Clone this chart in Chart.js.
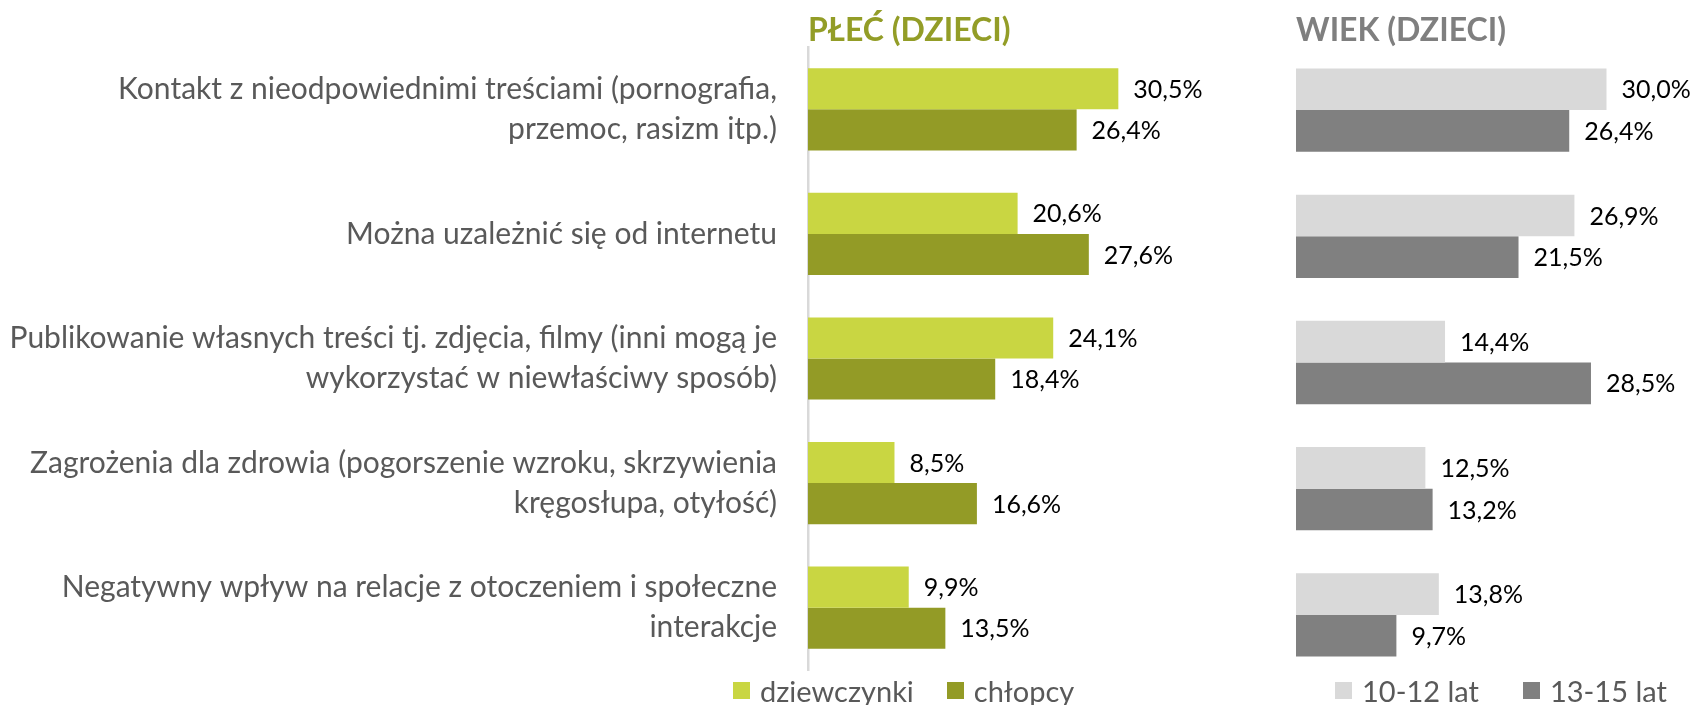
<!DOCTYPE html>
<html lang="pl">
<head>
<meta charset="utf-8">
<title>Zagrożenia w internecie – płeć i wiek dzieci</title>
<script src="https://cdn.jsdelivr.net/npm/chart.js@4.4.1/dist/chart.umd.min.js"></script>
<style>
  html, body { margin: 0; padding: 0; background: #fff; overflow: hidden; width: 1696px; height: 705px; }
  #wrap { position: relative; width: 1696px; height: 705px; }
  canvas { position: absolute; top: 0; }
  #cPlec { left: 0; }
  #cWiek { left: 1290px; }
  .legend { position: absolute; top: 675px; margin: 0; padding: 0; list-style: none; display: flex;
            font-family: Lato, "Open Sans", sans-serif; font-size: 29px; color: #595959; }
  .legend li { display: flex; align-items: center; height: 30px; white-space: nowrap; }
  .legend .box { display: inline-block; width: 17px; height: 17px; margin-right: 10px; }
  #legPlec { left: 733px; }
  #legPlec li + li { margin-left: 33px; }
  #legWiek { left: 1335px; }
  #legWiek li + li { margin-left: 44px; }
</style>
</head>
<body>
<div id="wrap">
  <canvas id="cPlec" width="1215" height="705"></canvas>
  <canvas id="cWiek" width="420" height="705"></canvas>
  <ul id="legPlec" class="legend"></ul>
  <ul id="legWiek" class="legend"></ul>
</div>
<script>
// Categories (multi-line labels for the y axis)
const categories = [
  ['Kontakt z nieodpowiednimi treściami (pornografia,', 'przemoc, rasizm itp.)'],
  'Można uzależnić się od internetu',
  ['Publikowanie własnych treści tj. zdjęcia, filmy (inni mogą je', 'wykorzystać w niewłaściwy sposób)'],
  ['Zagrożenia dla zdrowia (pogorszenie wzroku, skrzywienia', 'kręgosłupa, otyłość)'],
  ['Negatywny wpływ na relacje z otoczeniem i społeczne', 'interakcje']
];

// Series: sex of the child (%)
const dziewczynki = [30.5, 20.6, 24.1, 8.5, 9.9];
const chlopcy     = [26.4, 27.6, 18.4, 16.6, 13.5];

// Series: age of the child (%)
const wiek10_12 = [30.0, 26.9, 14.4, 12.5, 13.8];
const wiek13_15 = [26.4, 21.5, 28.5, 13.2, 9.7];

const seriesNames = { plec: ['dziewczynki', 'chłopcy'], wiek: ['10-12 lat', '13-15 lat'] };
const titles = { plec: 'PŁEĆ (DZIECI)', wiek: 'WIEK (DZIECI)' };

const FONT = 'Lato, "Open Sans", sans-serif';
const fmt = v => v.toFixed(1).replace('.', ',') + '%';

// Percentage labels to the right of each bar
const valueLabels = {
  id: 'valueLabels',
  afterDatasetsDraw(chart) {
    const ctx = chart.ctx;
    ctx.save();
    ctx.font = '25px ' + FONT;
    ctx.fillStyle = '#000000';
    ctx.textAlign = 'left';
    ctx.textBaseline = 'middle';
    chart.data.datasets.forEach((ds, i) => {
      chart.getDatasetMeta(i).data.forEach((bar, j) => {
        ctx.fillText(fmt(ds.data[j]), bar.x + 15, bar.y + 1);
      });
    });
    ctx.restore();
  }
};

// HTML legend built from the chart's own legend items
const htmlLegend = {
  id: 'htmlLegend',
  afterUpdate(chart, args, opts) {
    const ul = document.getElementById(opts.containerID);
    ul.innerHTML = '';
    const items = chart.options.plugins.legend.labels.generateLabels(chart);
    items.forEach(item => {
      const li = document.createElement('li');
      const box = document.createElement('span');
      box.className = 'box';
      box.style.background = item.fillStyle;
      const txt = document.createElement('span');
      txt.textContent = item.text;
      li.appendChild(box);
      li.appendChild(txt);
      ul.appendChild(li);
    });
  }
};

function makeChart(canvasId, legendId, title, titleColor, names, dataA, dataB, colA, colB, showAxis, padLeft, padBottom) {
  return new Chart(document.getElementById(canvasId), {
    type: 'bar',
    data: {
      labels: categories,
      datasets: [
        { label: names[0], data: dataA, backgroundColor: colA },
        { label: names[1], data: dataB, backgroundColor: colB }
      ]
    },
    options: {
      indexAxis: 'y',
      responsive: false,
      animation: false,
      events: [],
      layout: { padding: { top: 0, left: padLeft, right: 0, bottom: padBottom } },
      datasets: { bar: { categoryPercentage: 0.66, barPercentage: 1.0 } },
      scales: {
        x: { display: false, min: 0, max: 40 },
        y: showAxis ? {
          grid: { display: false, drawTicks: false },
          border: { display: true, color: '#D9D9D9', width: 2.5 },
          ticks: { font: { family: FONT, size: 30, lineHeight: 1.333 }, color: '#595959', padding: 31, autoSkip: false },
          afterFit(scale) {
            // fixed label column; the category bands already leave room above and below
            scale.width = 808;
            scale.paddingTop = 0;
            scale.paddingBottom = 0;
          }
        } : { display: false }
      },
      plugins: {
        legend: { display: false },
        tooltip: { enabled: false },
        title: {
          display: true, text: title, align: 'start', fullSize: false, color: titleColor,
          font: { family: FONT, size: 32, weight: 'bold', lineHeight: 1 },
          padding: { top: 15, bottom: 0 }
        },
        htmlLegend: { containerID: legendId }
      }
    },
    plugins: [valueLabels, htmlLegend]
  });
}

function draw() {
  makeChart('cPlec', 'legPlec', titles.plec, '#939D27', seriesNames.plec,
            dziewczynki, chlopcy, '#C9D642', '#939B26', true, 0, 35);
  makeChart('cWiek', 'legWiek', titles.wiek, '#7F7F7F', seriesNames.wiek,
            wiek10_12, wiek13_15, '#D9D9D9', '#808080', false, 6, 27);
}

if (document.fonts && document.fonts.load) {
  Promise.all([document.fonts.load('25px Lato'), document.fonts.load('bold 32px Lato')])
    .then(draw, draw);
} else {
  draw();
}
</script>
</body>
</html>
